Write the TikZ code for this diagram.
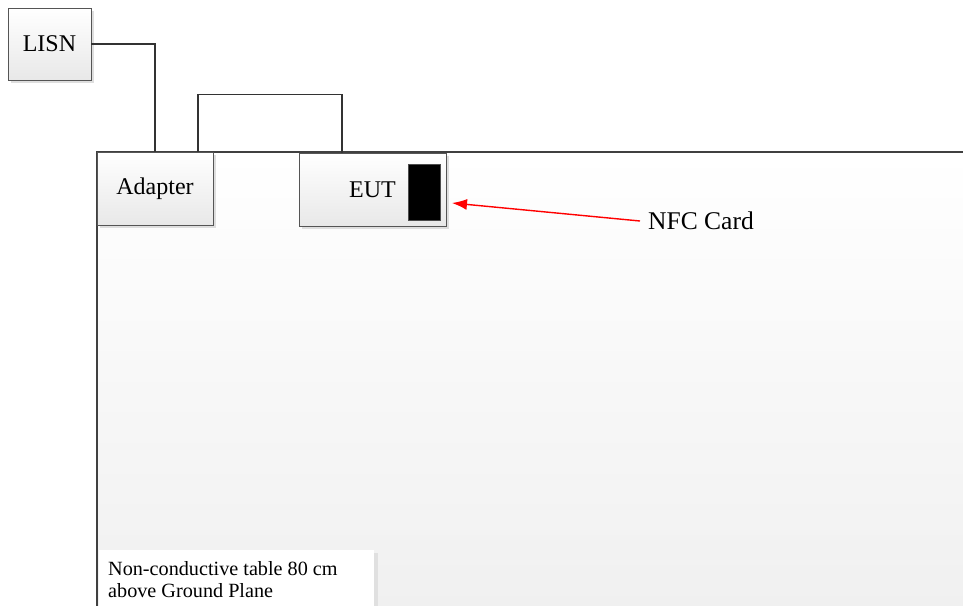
\documentclass[tikz,border=0pt]{standalone}
\usepackage{fontspec}
\setmainfont{Liberation Serif}
\usetikzlibrary{calc,arrows.meta}
\definecolor{edge}{HTML}{555555}
\definecolor{tabedge}{HTML}{404040}
\tikzset{
  box/.style={draw=edge, line width=0.9pt, top color=white, bottom color=black!9,
    minimum width=#1, inner sep=0pt, font=\fontsize{24}{28}\selectfont},
  wire/.style={draw=black!80, line width=1.6pt},
}
\begin{document}
\begin{tikzpicture}[x=1pt,y=-1pt]
\useasboundingbox (0,0) rectangle (963,605);
% table
\shade[top color=white, bottom color=black!6] (97,152) rectangle (975,620);
\draw[tabedge, line width=2.8pt] (97,620) -- (97,152) -- (975,152);
% shadows
\fill[black!13] (11,11) rectangle (94,83);
\fill[black!13] (100,155) rectangle (216,228);
\fill[black!13] (302,156) rectangle (449,229);
% boxes
\node[box=83pt, minimum height=72pt] (lisn) at (49.5,44) {LISN};
\node[box=116pt, minimum height=73pt] (adapter) at (155,188.5) {Adapter};
\node[box=147pt, minimum height=73pt] (eut) at (372.5,189.5) {EUT};
\node[fill=black, draw=black!70, line width=0.6pt, minimum width=32pt, minimum height=56pt, inner sep=0pt] (card) at (424,192) {};
% wires
\draw[wire] (lisn.east) -| (adapter.north);
\draw[wire] ([xshift=43pt]adapter.north) -- ++(0,-57) coordinate (bend) -| ([xshift=-30.5pt]eut.north);
% NFC label
\node[anchor=west, inner sep=0pt, font=\fontsize{25.5}{30}\selectfont] (nfc) at (648,221) {NFC Card};
\coordinate (tip) at (452,203);
\draw[red, line width=1.4pt, -{Latex[length=15pt,width=11pt]}] ([xshift=-8pt]nfc.west) -- (tip);
% table label
\fill[black!12] (104,553) rectangle (378,620);
\node[anchor=north west, fill=white, minimum width=275pt, minimum height=60pt, inner sep=0pt] (labelbg) at (99,550) {};
\node[anchor=north west, align=left, inner sep=0pt, font=\fontsize{20.2}{22}\selectfont] (label) at (108,561) {Non-conductive table 80 cm\\above Ground Plane};
\end{tikzpicture}
\end{document}
